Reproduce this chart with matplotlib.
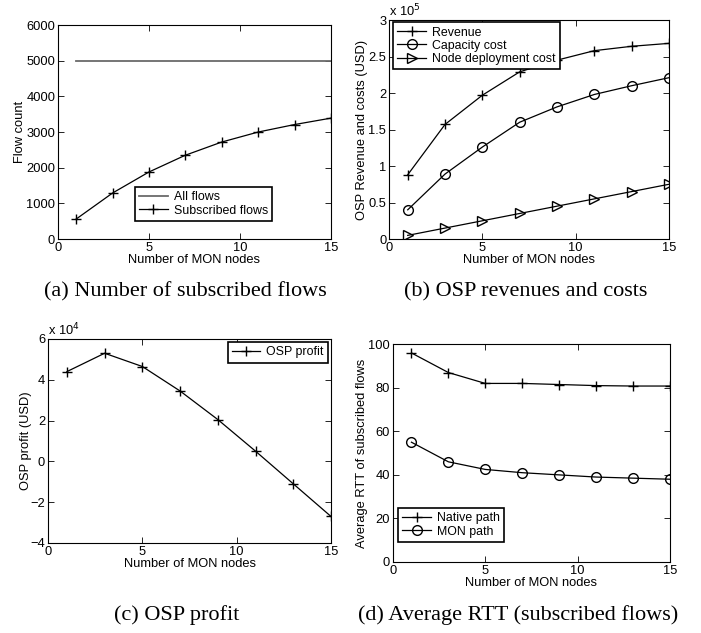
import matplotlib
matplotlib.use('Agg')
import matplotlib.pyplot as plt
from matplotlib.ticker import FuncFormatter

plt.rcParams['font.family'] = 'Liberation Sans'
plt.rcParams['font.size'] = 9.3

# data
nodes = [1, 3, 5, 7, 9, 11, 13, 15]
all_flows = [5000] * 8
subscribed_flows = [560, 1290, 1880, 2350, 2720, 3000, 3210, 3390]
revenue = [88000, 157000, 197000, 229000, 245000, 258000, 264000, 268000]
capacity_cost = [40000, 89000, 126000, 160000, 181000, 198000, 210000, 221000]
deploy_cost = [5000, 15000, 25000, 35000, 45000, 55000, 65000, 75000]
profit = [44000, 53000, 46500, 34500, 20500, 5000, -11000, -27000]
rtt_native = [96, 87, 82, 82, 81.5, 81, 80.8, 80.8]
rtt_mon = [55, 46, 42.5, 41, 40, 39, 38.5, 38]

captions = ['(a) Number of subscribed flows', '(b) OSP revenues and costs',
            '(c) OSP profit', '(d) Average RTT (subscribed flows)']

fig = plt.figure(figsize=(7.01, 6.33), dpi=100)
ax1 = fig.add_axes([0.0827, 0.6224, 0.3894, 0.338])
ax2 = fig.add_axes([0.555, 0.6224, 0.3994, 0.346])
ax3 = fig.add_axes([0.0685, 0.1422, 0.4037, 0.3223])
ax4 = fig.add_axes([0.5606, 0.1122, 0.395, 0.344])

lw = 0.9
ms = 7


def style(ax):
    ax.tick_params(direction='in', top=True, right=True, length=4, width=0.6, pad=2)
    for s in ax.spines.values():
        s.set_linewidth(0.8)
    ax.set_xlim(0, 15)
    ax.set_xticks([0, 5, 10, 15])
    ax.set_xlabel('Number of MON nodes', labelpad=0)


def leg(ax, **kw):
    lg = ax.legend(fancybox=False, edgecolor='black', framealpha=1, fontsize=8.9,
                   borderpad=0.35, labelspacing=0.1, handlelength=2.3,
                   handletextpad=0.5, borderaxespad=0, **kw)
    lg.get_frame().set_linewidth(1.2)


# (a)
ax1.plot(nodes, all_flows, color='#6a6a6a', lw=1.3, label='All flows')
ax1.plot(nodes, subscribed_flows, color='black', lw=lw, marker='+', ms=ms,
         label='Subscribed flows')
ax1.set_ylim(0, 6000)
ax1.set_yticks(range(0, 6001, 1000))
ax1.set_ylabel('Flow count', labelpad=0)
style(ax1)
leg(ax1, loc='lower left', bbox_to_anchor=(0.282, 0.084))

# (b)
ax2.plot(nodes, revenue, color='black', lw=lw, marker='+', ms=ms, label='Revenue')
ax2.plot(nodes, capacity_cost, color='black', lw=lw, marker='o', ms=ms,
         fillstyle='none', label='Capacity cost')
ax2.plot(nodes, deploy_cost, color='black', lw=lw, marker='>', ms=ms,
         fillstyle='none', label='Node deployment cost')
ax2.set_ylim(0, 300000)
ax2.set_yticks(range(0, 300001, 50000))
ax2.yaxis.set_major_formatter(FuncFormatter(lambda v, p: '%g' % (v / 1e5)))
ax2.set_ylabel('OSP Revenue and costs (USD)', labelpad=0)
ax2.text(0.0, 1.005, r'x 10$^5$', transform=ax2.transAxes,
         va='bottom', ha='left')
style(ax2)
leg(ax2, loc='upper left', bbox_to_anchor=(0.014, 0.99))

# (c)
ax3.plot(nodes, profit, color='black', lw=lw, marker='+', ms=ms, label='OSP profit')
ax3.set_ylim(-40000, 60000)
ax3.set_yticks(range(-40000, 60001, 20000))
ax3.yaxis.set_major_formatter(FuncFormatter(lambda v, p: ('%g' % (v / 1e4)).replace('-', '\u2212')))
ax3.set_ylabel('OSP profit (USD)', labelpad=-1)
ax3.text(0.0, 1.005, r'x 10$^4$', transform=ax3.transAxes,
         va='bottom', ha='left')
style(ax3)
leg(ax3, loc='upper right', bbox_to_anchor=(0.99, 0.985))

# (d)
ax4.plot(nodes, rtt_native, color='black', lw=lw, marker='+', ms=ms, label='Native path')
ax4.plot(nodes, rtt_mon, color='black', lw=lw, marker='o', ms=ms,
         fillstyle='none', label='MON path')
ax4.set_ylim(0, 100)
ax4.set_yticks(range(0, 101, 20))
ax4.set_ylabel('Average RTT of subscribed flows', labelpad=0)
style(ax4)
leg(ax4, loc='lower left', bbox_to_anchor=(0.018, 0.092))

# captions
cap_kw = dict(family='Liberation Serif', fontsize=16, ha='center', va='center')
fig.text(185 / 701, 1 - 292 / 633, captions[0], **cap_kw)
fig.text(526 / 701, 1 - 292 / 633, captions[1], **cap_kw)
fig.text(177 / 701, 1 - 615 / 633, captions[2], **cap_kw)
fig.text(518 / 701, 1 - 615 / 633, captions[3], **cap_kw)

fig.savefig('out.png', dpi=100)
